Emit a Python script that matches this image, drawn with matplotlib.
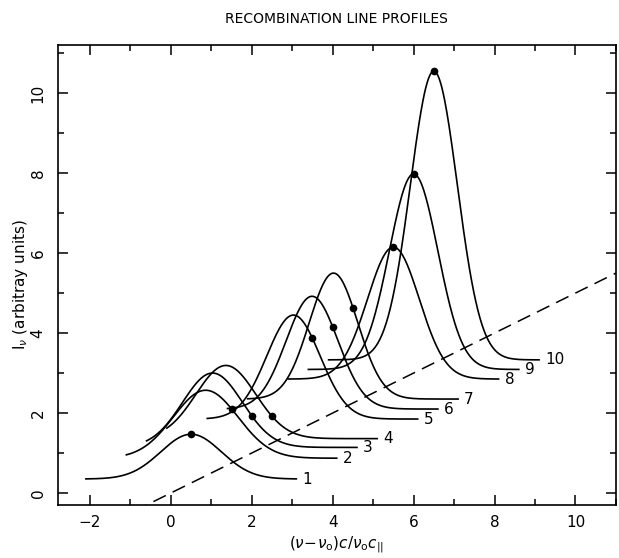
import numpy as np
import matplotlib.pyplot as plt
from matplotlib.ticker import MultipleLocator

# line centres (dots), baselines, peak positions/heights and widths
labels = ["1", "2", "3", "4", "5", "6", "7", "8", "9", "10"]
centres = [0.5, 1.5, 2.0, 2.5, 3.5, 4.0, 4.5, 5.5, 6.0, 6.5]
baselines = [0.35, 0.87, 1.14, 1.36, 1.85, 2.10, 2.35, 2.85, 3.09, 3.33]
peak_x = [0.5, 0.86, 1.03, 1.36, 3.03, 3.49, 4.02, 5.5, 6.0, 6.5]
peak_y = [1.47, 2.57, 3.00, 3.19, 4.45, 4.92, 5.50, 6.15, 7.98, 10.55]
widths = [0.75, 0.80, 0.74, 0.74, 0.66, 0.64, 0.60, 0.64, 0.60, 0.58]
half_span = 2.6

# dashed reference line
dash_x = [-2.8, 11.0]
dash_slope = 0.5

fig = plt.figure(figsize=(6.19, 5.58), dpi=100)
ax = fig.add_axes([0.093, 0.095, 0.902, 0.824])

def profile(x, i):
    return baselines[i] + (peak_y[i] - baselines[i]) * np.exp(-(x - peak_x[i])**2 / (2 * widths[i]**2))

for i in range(len(labels)):
    x = np.linspace(centres[i] - half_span, centres[i] + half_span, 300)
    ax.plot(x, profile(x, i), color="black", lw=1.2)
    ax.plot(centres[i], profile(centres[i], i), "o", color="black", ms=4.5)
    ax.text(centres[i] + half_span + 0.15, baselines[i], labels[i],
            ha="left", va="center", fontsize=11)

dx = np.array(dash_x)
ax.plot(dx, dash_slope * dx, color="black", lw=1.1, dashes=(9, 5))

ax.set_xlim(-2.8, 11.0)
ax.set_ylim(-0.3, 11.2)
ax.xaxis.set_major_locator(MultipleLocator(2))
ax.xaxis.set_minor_locator(MultipleLocator(1))
ax.yaxis.set_major_locator(MultipleLocator(2))
ax.yaxis.set_minor_locator(MultipleLocator(1))
ax.tick_params(which="both", direction="in", top=True, right=True, labelsize=11)
ax.tick_params(which="major", length=7, width=1.1)
ax.tick_params(which="minor", length=4, width=1.1)
ax.tick_params(axis="x", pad=7)
ax.tick_params(axis="y", pad=14)
for lab in ax.get_yticklabels():
    lab.set_rotation(90)
    lab.set_va("center")
    lab.set_ha("center")
for s in ax.spines.values():
    s.set_linewidth(1.2)

ax.set_xlabel(r"$(\nu\!-\!\nu_{\rm o})c/\nu_{\rm o}c_{||}$", fontsize=11, labelpad=3)
ax.set_ylabel(r"I$_\nu$ (arbitray units)", fontsize=11)
ax.yaxis.label.set_va("center")
ax.yaxis.set_label_coords(-0.066, 0.48)
ax.set_title("RECOMBINATION LINE PROFILES", fontsize=10, pad=16)

fig.savefig("out.png", dpi=100)
